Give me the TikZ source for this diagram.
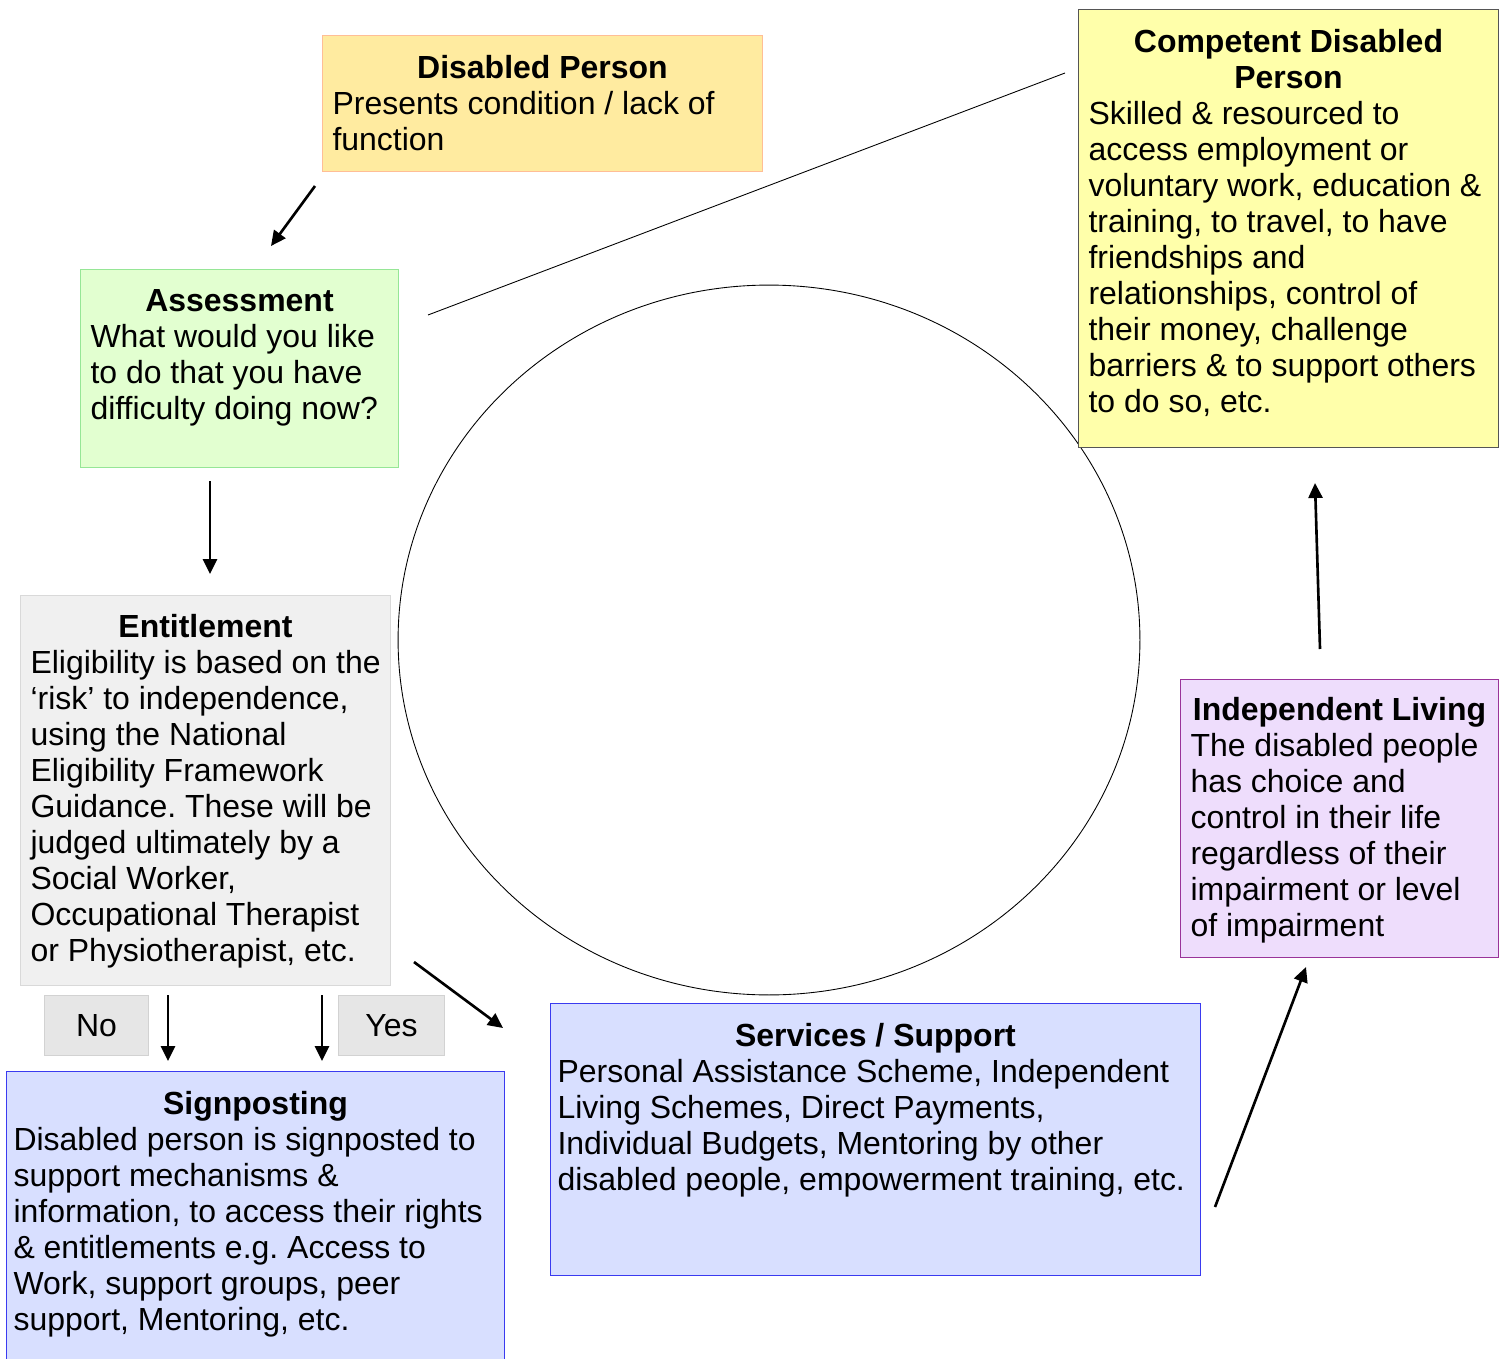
\documentclass[tikz,border=0pt]{standalone}
\usepackage{fontspec}
\setmainfont{Liberation Sans}
\usetikzlibrary{arrows.meta,shapes.geometric}
\frenchspacing
\definecolor{dpfill}{HTML}{FFEBA0}
\definecolor{dpline}{HTML}{FFBE96}
\definecolor{asfill}{HTML}{E2FFD0}
\definecolor{asline}{HTML}{96E696}
\definecolor{enfill}{HTML}{F0F0F0}
\definecolor{enline}{HTML}{D9D9D9}
\definecolor{ynfill}{HTML}{E6E6E6}
\definecolor{ynline}{HTML}{D2D2D2}
\definecolor{bluefill}{HTML}{D8DFFF}
\definecolor{blueline}{HTML}{3A3AF0}
\definecolor{ilfill}{HTML}{EEDDFC}
\definecolor{illine}{HTML}{993399}
\definecolor{cdfill}{HTML}{FFFFAA}
\definecolor{cdline}{HTML}{555555}
% box text: height, width, title, body
\newcommand{\boxtext}[4]{\parbox[c][#1][t]{#2}{{\centering\bfseries #3\par}\leftskip=0pt\rightskip=-0.4cm plus 1fil\parfillskip=0pt plus 1fil\relax #4}}
\begin{document}
\begin{tikzpicture}[x=0.02cm,y=-0.02cm,
  font=\fontsize{18.2pt}{20.5pt}\selectfont,
  stage/.style={draw,line width=0.6pt,anchor=north west,inner xsep=0.2cm,inner ysep=0.4cm},
  answer/.style={draw=ynline,fill=ynfill,line width=0.6pt,minimum width=2.08cm,minimum height=1.2cm,inner sep=0},
  flow/.style={line width=1.5pt,-{Triangle[length=0.3cm,width=0.28cm]}}]
  \useasboundingbox (0,0) rectangle (1503,1358);
  % Cycle
  \node[draw,ellipse,line width=0.5pt,minimum width=14.84cm,minimum height=14.2cm,inner sep=0] (cycle) at (769,640) {};
  % Boxes
  \node[stage,draw=dpline,fill=dpfill] (disabled) at (322,35)
    {\boxtext{1.92cm}{8.4cm}{Disabled Person}{Presents condition / lack of\\ function}};
  \node[stage,draw=asline,fill=asfill] (assess) at (80,269)
    {\boxtext{3.16cm}{5.96cm}{Assessment}{What would you like\\ to do that you have\\ difficulty doing now?}};
  \node[stage,draw=enline,fill=enfill,inner ysep=0.37cm] (entitle) at (20,595)
    {\boxtext{7.06cm}{7.0cm}{Entitlement}{Eligibility is based on the\\ ‘risk’ to independence,\\ using the National\\ Eligibility Framework\\ Guidance. These will be\\ judged ultimately by a\\ Social Worker,\\ Occupational Therapist\\ or Physiotherapist, etc.}};
  \node[answer,anchor=north west] (no) at (44,995) {No};
  \node[answer,anchor=north west,minimum width=2.12cm] (yes) at (338,995) {Yes};
  \node[stage,draw=blueline,fill=bluefill,inner xsep=0.14cm] (signpost) at (6,1071)
    {\boxtext{5.0cm}{9.68cm}{Signposting}{Disabled person is signposted to\\ support mechanisms \&\\ information, to access their rights\\ \& entitlements e.g. Access to\\ Work, support groups, peer\\ support, Mentoring, etc.}};
  \node[stage,draw=blueline,fill=bluefill,inner xsep=0.14cm] (services) at (550,1003)
    {\boxtext{4.64cm}{12.72cm}{Services / Support}{Personal Assistance Scheme, Independent\\ Living Schemes, Direct Payments,\\ Individual Budgets, Mentoring by other\\ disabled people, empowerment training, etc.}};
  \node[stage,draw=illine,fill=ilfill,inner ysep=0.36cm] (indep) at (1180,679)
    {\boxtext{4.84cm}{5.96cm}{Independent Living}{The disabled people\\ has choice and\\ control in their life\\ regardless of their\\ impairment or level\\ of impairment}};
  \node[stage,draw=cdline,fill=cdfill] (compet) at (1078,9)
    {\boxtext{7.96cm}{8.0cm}{Competent Disabled\\ Person}{Skilled \& resourced to\\ access employment or\\ voluntary work, education \&\\ training, to travel, to have\\ friendships and\\ relationships, control of\\ their money, challenge\\ barriers \& to support others\\ to do so, etc.}};
  % Arrow ends
  \coordinate (dp-out) at (315,186);
  \coordinate (as-in) at (271,246);
  \coordinate (as-out) at (210,481);
  \coordinate (en-in) at (210,574);
  \coordinate (no-out) at (168,995);
  \coordinate (no-in) at (168,1061);
  \coordinate (yes-out) at (322,995);
  \coordinate (yes-in) at (322,1061);
  \coordinate (en-out) at (414,962);
  \coordinate (sv-in) at (503,1028);
  \coordinate (sv-out) at (1215,1207);
  \coordinate (il-in) at (1306,967);
  \coordinate (il-out) at (1320,649);
  \coordinate (cd-in) at (1315,483);
  \coordinate (link-a) at (428,315);
  \coordinate (link-b) at (1065,73);
  % Arrows
  \draw[flow] (dp-out) -- (as-in);
  \draw[flow] (as-out) -- (en-in);
  \draw[flow] (no-out) -- (no-in);
  \draw[flow] (yes-out) -- (yes-in);
  \draw[flow] (en-out) -- (sv-in);
  \draw[flow] (sv-out) -- (il-in);
  \draw[flow] (il-out) -- (cd-in);
  % Thin link
  \draw[line width=0.5pt] (link-a) -- (link-b);
\end{tikzpicture}
\end{document}
